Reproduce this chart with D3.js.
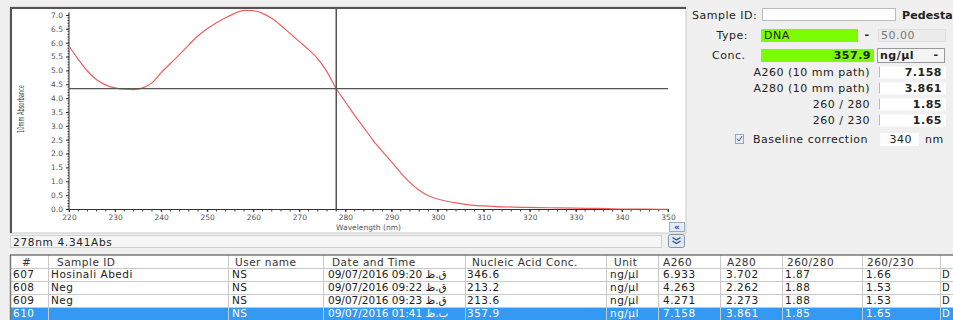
<!DOCTYPE html>
<html>
<head>
<meta charset="utf-8">
<script src="https://cdn.jsdelivr.net/npm/d3@7"></script>
<style>
  body { margin: 0; background: #f0f0f0; }
  svg { display: block; font-family: "DejaVu Sans", Verdana, sans-serif; }
</style>
</head>
<body>
<svg id="chart" width="953" height="320"></svg>
<script>
// spectrum (baseline corrected at 340 nm)
const wavelengths = [220, 222, 224, 226, 228, 230, 232, 234, 236, 238, 240, 242, 244, 246, 248, 250,
  252, 254, 256, 258, 260, 262, 264, 266, 268, 270, 272, 274, 276, 278, 280, 282, 284, 286, 288, 290,
  292, 294, 296, 298, 300, 302, 304, 306, 308, 310, 314, 318, 322, 326, 330, 335, 340, 345, 350];
const absorbance = [5.88, 5.40, 4.98, 4.66, 4.47, 4.37, 4.32, 4.31, 4.37, 4.55, 4.92, 5.25, 5.58, 5.92,
  6.25, 6.50, 6.72, 6.90, 7.06, 7.17, 7.158, 7.06, 6.88, 6.62, 6.33, 6.04, 5.75, 5.42, 4.95, 4.341,
  3.861, 3.38, 2.93, 2.48, 2.08, 1.70, 1.30, 0.95, 0.68, 0.48, 0.36, 0.28, 0.22, 0.17, 0.13, 0.11,
  0.08, 0.06, 0.05, 0.04, 0.03, 0.02, 0.00, 0.00, -0.01];

const xTickLabels = ['220', '230', '240', '250', '260', '270', '280', '290', '300', '310', '320', '330', '340', '350'];
const yTickLabels = ['0.0', '0.5', '1.0', '1.5', '2.0', '2.5', '3.0', '3.5', '4.0', '4.5', '5.0', '5.5', '6.0', '6.5', '7.0'];

const cursorWl = 278;
const cursorAbs = 4.341;

// measurement table
const columnNames = ['#', 'Sample ID', 'User name', 'Date and Time', 'Nucleic Acid Conc.', 'Unit', 'A260', 'A280', '260/280', '260/230'];
const rowNumbers = ['607', '608', '609', '610'];
const sampleIds = ['Hosinali Abedi', 'Neg', 'Neg', ''];
const userNames = ['NS', 'NS', 'NS', 'NS'];
const dateTimes = ['09/07/2016 09:20 ق.ظ', '09/07/2016 09:22 ق.ظ', '09/07/2016 09:23 ق.ظ', '09/07/2016 01:41 ب.ظ'];
const nucleicConc = ['346.6', '213.2', '213.6', '357.9'];
const units = ['ng/µl', 'ng/µl', 'ng/µl', 'ng/µl'];
const a260 = ['6.933', '4.263', '4.271', '7.158'];
const a280 = ['3.702', '2.262', '2.273', '3.861'];
const ratio280 = ['1.87', '1.88', '1.88', '1.85'];
const ratio230 = ['1.66', '1.53', '1.53', '1.65'];
const selectedRow = 3;

// side panel
const sampleType = 'DNA';
const typeFactor = '50.00';
const metricLabels = ['A260 (10 mm path)', 'A280 (10 mm path)', '260 / 280', '260 / 230'];
const metricValues = [a260[selectedRow], a280[selectedRow], ratio280[selectedRow], ratio230[selectedRow]];
const baselineNm = '340';

const svg = d3.select('#chart');

/**************************************************************
 * Plot panel
 **************************************************************/
svg.append('rect').attr('x', 10).attr('y', 7).attr('width', 676).attr('height', 226)
  .attr('fill', '#fff').attr('stroke', '#c8c8c8');
svg.append('line').attr('x1', 10).attr('x2', 686).attr('y1', 8).attr('y2', 8)
  .attr('stroke', '#555').attr('stroke-width', 2);
svg.append('line').attr('x1', 11).attr('x2', 11).attr('y1', 7).attr('y2', 233)
  .attr('stroke', '#555').attr('stroke-width', 2);

const x = d3.scaleLinear().domain([220, 350]).range([69, 668]);
const y = d3.scaleLinear().domain([0, 7]).range([209, 15]);

const plot = svg.append('g');

// minor ticks
plot.append('g').selectAll('line')
  .data(d3.range(0, 7.05, 0.1))
  .enter().append('line')
  .attr('x1', 67.5).attr('x2', 69)
  .attr('y1', d => y(d)).attr('y2', d => y(d))
  .attr('stroke', '#444');
plot.append('g').selectAll('line')
  .data(d3.range(220, 351, 2))
  .enter().append('line')
  .attr('x1', d => x(d)).attr('x2', d => x(d))
  .attr('y1', 209).attr('y2', 211.5)
  .attr('stroke', '#444');

// axes
const yAxis = d3.axisLeft(y).tickValues(yTickLabels.map(Number)).tickFormat((d, i) => yTickLabels[i])
  .tickSize(3).tickPadding(3);
const xAxis = d3.axisBottom(x).tickValues(xTickLabels.map(Number)).tickFormat((d, i) => xTickLabels[i])
  .tickSize(3).tickPadding(3);

const gy = plot.append('g').attr('transform', 'translate(69,0)').call(yAxis);
const gx = plot.append('g').attr('transform', 'translate(0,209)').call(xAxis);
[gx, gy].forEach(g => {
  g.select('.domain').attr('stroke', '#333');
  g.selectAll('.tick line').attr('stroke', '#333');
  g.selectAll('.tick text').attr('fill', '#555').style('font-size', '7.5px')
    .style('font-family', '"DejaVu Sans", sans-serif');
});
gy.select('.domain').attr('d', 'M0,' + y(7.1) + 'V209.5');

// axis titles
plot.append('text')
  .attr('x', x(285)).attr('y', 230)
  .attr('text-anchor', 'middle')
  .attr('fill', '#555')
  .style('font-size', '7.5px')
  .text('Wavelength (nm)');
plot.append('text')
  .attr('transform', 'translate(24,109) rotate(-90)')
  .attr('text-anchor', 'middle')
  .attr('fill', '#444')
  .attr('textLength', 48).attr('lengthAdjust', 'spacingAndGlyphs')
  .style('font-size', '8px')
  .style('font-family', '"Liberation Sans Narrow", "DejaVu Sans Condensed", sans-serif')
  .text('10mm Absorbance');

// spectrum
const line = d3.line()
  .x((d, i) => x(wavelengths[i]))
  .y(d => y(d))
  .curve(d3.curveMonotoneX);
plot.append('path')
  .datum(absorbance)
  .attr('d', line)
  .attr('fill', 'none')
  .attr('stroke', '#ef5f5f')
  .attr('stroke-width', 1.2);

// cursor cross
plot.append('line')
  .attr('x1', x(220)).attr('x2', x(350))
  .attr('y1', y(cursorAbs)).attr('y2', y(cursorAbs))
  .attr('stroke', '#555').attr('stroke-width', 1.2);
plot.append('line')
  .attr('x1', x(cursorWl)).attr('x2', x(cursorWl))
  .attr('y1', 9).attr('y2', 209)
  .attr('stroke', '#555').attr('stroke-width', 1.5);

// small "<<" button
svg.append('rect').attr('x', 669.5).attr('y', 222.5).attr('width', 15).attr('height', 9)
  .attr('fill', '#e4ecf7').attr('stroke', '#9aaabb');
svg.append('text').attr('x', 677).attr('y', 230).attr('text-anchor', 'middle')
  .attr('fill', '#2850a0').style('font-size', '9px').style('font-weight', 'bold').text('«');

/**************************************************************
 * Status bar
 **************************************************************/
svg.append('rect').attr('x', 10.5).attr('y', 235.5).attr('width', 651).attr('height', 12)
  .attr('fill', '#f6f6f6').attr('stroke', '#d0d0d0');
svg.append('text').attr('x', 13).attr('y', 245.5)
  .attr('fill', '#222').style('font-size', '10.5px').style('letter-spacing', '0.7px')
  .text(cursorWl + 'nm ' + cursorAbs + 'Abs');

svg.append('rect').attr('x', 668.5).attr('y', 234.5).attr('width', 16).attr('height', 13)
  .attr('rx', 2).attr('fill', '#dfe8f4').attr('stroke', '#8494a8');
[0, 3.5].forEach(dy => {
  svg.append('path')
    .attr('d', 'M672.5,' + (237.5 + dy) + 'L676.5,' + (240 + dy) + 'L680.5,' + (237.5 + dy))
    .attr('fill', 'none').attr('stroke', '#2a4f8a').attr('stroke-width', 1.3);
});

/**************************************************************
 * Table
 **************************************************************/
const colX = [10, 48, 228, 323, 465, 606, 658, 720, 782, 862, 940];
const headX = [22, 57, 235, 332, 472, 614, 663, 727, 787, 867];
const cellX = [13, 51, 232, 328, 467, 610, 663, 726, 785, 866];

const rowY = d3.scaleBand().domain(rowNumbers).range([268, 320]);

const table = svg.append('g').style('font-size', '10.5px').style('letter-spacing', '0.5px');
table.append('rect').attr('x', 10).attr('y', 255).attr('width', 943).attr('height', 65).attr('fill', '#fff');
table.append('rect').attr('x', 10).attr('y', rowY(rowNumbers[selectedRow]))
  .attr('width', 943).attr('height', rowY.bandwidth()).attr('fill', '#3399f3');

// grid
table.selectAll('.hline')
  .data([268].concat(rowNumbers.map(r => rowY(r) + rowY.bandwidth())))
  .enter().append('line')
  .attr('x1', 10).attr('x2', 953)
  .attr('y1', d => d + 0.5).attr('y2', d => d + 0.5)
  .attr('stroke', '#c8c8c8');
table.selectAll('.vline')
  .data(colX.slice(1))
  .enter().append('line')
  .attr('x1', d => d + 0.5).attr('x2', d => d + 0.5)
  .attr('y1', 255).attr('y2', 320)
  .attr('stroke', '#c8c8c8');
table.append('line').attr('x1', 10).attr('x2', 953).attr('y1', 255).attr('y2', 255)
  .attr('stroke', '#777').attr('stroke-width', 1.5);
table.append('line').attr('x1', 10.5).attr('x2', 10.5).attr('y1', 255).attr('y2', 320)
  .attr('stroke', '#777').attr('stroke-width', 1.5);

// header
table.selectAll('.head')
  .data(columnNames)
  .enter().append('text')
  .attr('x', (d, i) => headX[i]).attr('y', 265.5)
  .attr('fill', '#333')
  .text(d => d);

const columns = [rowNumbers, sampleIds, userNames, dateTimes, nucleicConc, units, a260, a280, ratio280, ratio230];
rowNumbers.forEach((r, ri) => {
  columns.forEach((col, ci) => {
    table.append('text')
      .attr('x', cellX[ci]).attr('y', rowY(r) + 10)
      .attr('direction', 'ltr')
      .attr('fill', ri === selectedRow ? '#fff' : '#222')
      .text(col[ri]);
  });
  // narrow last column
  table.append('text')
    .attr('x', 942).attr('y', rowY(r) + 10)
    .attr('fill', ri === selectedRow ? '#fff' : '#222')
    .style('font-size', '10px').style('letter-spacing', '0px')
    .text('D');
});

/**************************************************************
 * Side panel
 **************************************************************/
const side = svg.append('g').style('font-size', '11px').style('letter-spacing', '0.5px');
const label = (txt, xx, yy, anchor, weight) => side.append('text')
  .attr('x', xx).attr('y', yy).attr('text-anchor', anchor || 'start')
  .attr('fill', '#222').style('font-weight', weight || 'normal')
  .text(txt);
const box = (xx, yy, w, h, fill, stroke) => side.append('rect')
  .attr('x', xx + 0.5).attr('y', yy + 0.5).attr('width', w).attr('height', h)
  .attr('fill', fill).attr('stroke', stroke || '#ccc');

label('Sample ID:', 692, 18.5);
box(762, 8, 133, 12, '#fff', '#bbb');
label('Pedesta', 902, 18.5, 'start', 'bold').style('letter-spacing', '0.1px');

label('Type:', 748, 38.5, 'end');
box(761, 29, 96, 12, '#7cfc00', '#7cfc00');
label(sampleType, 764, 38.5);
label('-', 867, 38, 'middle', 'bold');
box(878, 29, 67, 12, '#ececec', '#ddd');
label(typeFactor, 881, 38.5).attr('fill', '#777');

label('Conc.', 712, 58.5);
box(761, 49, 112, 12, '#7cfc00', '#7cfc00');
label(nucleicConc[selectedRow], 871, 58.5, 'end', 'bold');
box(877, 48, 67, 14, '#f4f4f4', '#999');
label(units[selectedRow], 880, 58.5, 'start', 'bold');
label('-', 936, 58, 'middle', 'bold');

const metricY = [72.5, 88.5, 104.5, 120.5];
metricLabels.forEach((m, i) => {
  label(m, 870, metricY[i] + 3.5, 'end');
  box(879, metricY[i] - 6, 66, 11, '#fff', '#fff');
  side.append('line').attr('x1', 879.5).attr('x2', 879.5)
    .attr('y1', metricY[i] - 6).attr('y2', metricY[i] + 5).attr('stroke', '#bbb');
  label(metricValues[i], 942, metricY[i] + 3.5, 'end', 'bold');
});

box(735, 134, 8, 9, '#e8eef6', '#9aa');
side.append('path').attr('d', 'M737,138.5L739,141L742,136')
  .attr('fill', 'none').attr('stroke', '#4060a0').attr('stroke-width', 1);
label('Baseline correction', 753, 143);
box(880, 133, 38, 12, '#fff', '#fff');
label(baselineNm, 912, 143, 'end');
label('nm', 925, 143);
</script>
</body>
</html>
